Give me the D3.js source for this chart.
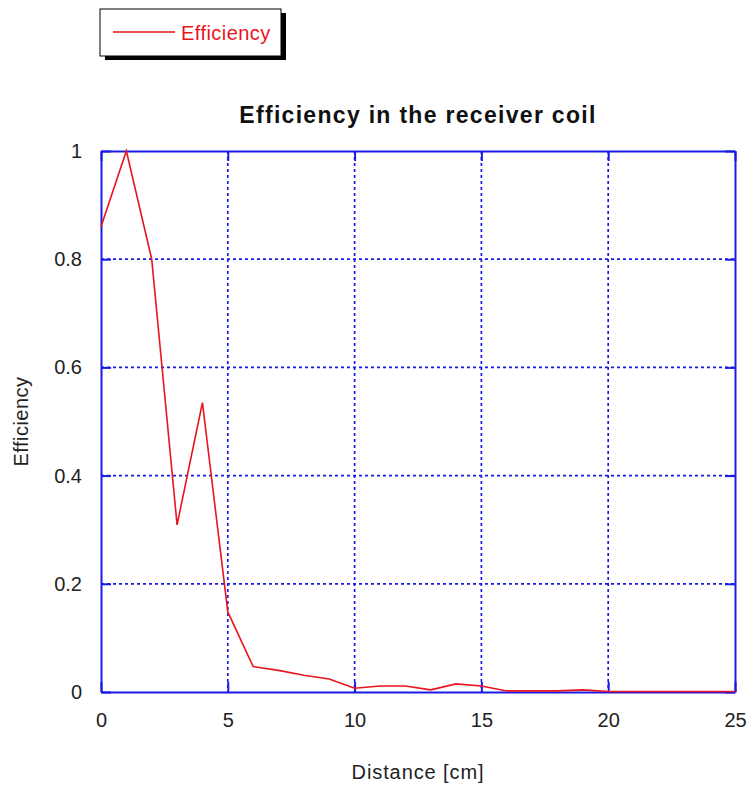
<!DOCTYPE html>
<html><head><meta charset="utf-8">
<script src="https://cdn.jsdelivr.net/npm/d3@7"></script>
<style>body{margin:0;background:#fff}svg{display:block}</style>
</head><body>
<svg id="c" width="749" height="790"></svg>
<script>
const distance = [0,1,2,3,4,5,6,7,8,9,10,11,12,13,14,15,16,17,18,19,20,21,22,23,24,25];
const efficiency = [0.86,1.0,0.80,0.309,0.535,0.148,0.047,0.040,0.031,0.024,0.007,0.011,0.011,0.004,0.015,0.011,0.002,0.002,0.002,0.004,0.001,0.001,0.001,0.001,0.001,0.001];
const xTicks = [0,5,10,15,20,25];
const yTicks = [0,0.2,0.4,0.6,0.8,1];
const title = "Efficiency in the receiver coil";
const xLabel = "Distance [cm]";
const yLabel = "Efficiency";
const seriesName = "Efficiency";

const svg = d3.select("#c");
const m = {l:101, r:735, t:151, b:692};
const x = d3.scaleLinear().domain([0,25]).range([m.l,m.r]);
const y = d3.scaleLinear().domain([0,1]).range([m.b,m.t]);
const blue = "#1a1ae6", red = "#e8141e";
const font = "Arial, 'Liberation Sans', sans-serif";

// grid
const g = svg.append("g");
g.selectAll(".vx").data(xTicks.slice(1,-1)).join("line")
  .attr("x1",d=>x(d)).attr("x2",d=>x(d)).attr("y1",m.t).attr("y2",m.b)
  .attr("stroke",blue).attr("stroke-width",1.7).attr("stroke-dasharray","3,3");
g.selectAll(".hy").data(yTicks.slice(1,-1)).join("line")
  .attr("y1",d=>y(d)).attr("y2",d=>y(d)).attr("x1",m.l).attr("x2",m.r)
  .attr("stroke",blue).attr("stroke-width",1.7).attr("stroke-dasharray","3,3");

// axes with inward tick marks
const xAxB = d3.axisBottom(x).tickValues(xTicks).tickSizeInner(-10).tickSizeOuter(0).tickPadding(21).tickFormat(d3.format("d"));
const xAxT = d3.axisTop(x).tickValues(xTicks).tickSizeInner(-10).tickSizeOuter(0).tickFormat("");
const yAxL = d3.axisLeft(y).tickValues(yTicks).tickSizeInner(-10).tickSizeOuter(0).tickPadding(19).tickFormat(d=>d===0||d===1?String(d):d3.format(".1f")(d));
const yAxR = d3.axisRight(y).tickValues(yTicks).tickSizeInner(-10).tickSizeOuter(0).tickFormat("");
function style(sel){
  sel.selectAll("path").attr("stroke",blue).attr("stroke-width",2);
  sel.selectAll("line").attr("stroke",blue).attr("stroke-width",2);
  sel.selectAll("text").attr("fill","#222").style("font-family",font).style("font-size","20px");
}
svg.append("g").attr("transform",`translate(0,${m.b})`).call(xAxB).call(style);
svg.append("g").attr("transform",`translate(0,${m.t})`).call(xAxT).call(style);
svg.append("g").attr("transform",`translate(${m.l},0)`).call(yAxL).call(style);
svg.append("g").attr("transform",`translate(${m.r},0)`).call(yAxR).call(style);

// line
const line = d3.line().x((d,i)=>x(distance[i])).y(d=>y(d));
svg.append("path").datum(efficiency).attr("d",line)
  .attr("fill","none").attr("stroke",red).attr("stroke-width",1.6);

// title & labels
svg.append("text").attr("x",(m.l+m.r)/2).attr("y",123).attr("text-anchor","middle")
  .style("font-family",font).style("font-size","23px").style("font-weight","bold").style("letter-spacing","1.3px").attr("fill","#111").text(title);
svg.append("text").attr("x",(m.l+m.r)/2).attr("y",779).attr("text-anchor","middle")
  .style("font-family",font).style("font-size","20px").style("letter-spacing","0.9px").attr("fill","#222").text(xLabel);
svg.append("text").attr("transform",`translate(28,${(m.t+m.b)/2}) rotate(-90)`).attr("text-anchor","middle")
  .style("font-family",font).style("font-size","20px").style("letter-spacing","0.5px").attr("fill","#222").text(yLabel);

// legend
const lg = svg.append("g");
lg.append("rect").attr("x",105).attr("y",13).attr("width",181).attr("height",47).attr("fill","#000");
lg.append("rect").attr("x",100).attr("y",9).attr("width",181).attr("height",47).attr("fill","#fff").attr("stroke","#000").attr("stroke-width",1);
lg.append("line").attr("x1",113).attr("x2",175).attr("y1",32).attr("y2",32).attr("stroke",red).attr("stroke-width",1.6);
lg.append("text").attr("x",181).attr("y",39.5).style("font-family",font).style("font-size","20px").style("letter-spacing","0.45px").attr("fill",red).text(seriesName);
</script>
</body></html>
